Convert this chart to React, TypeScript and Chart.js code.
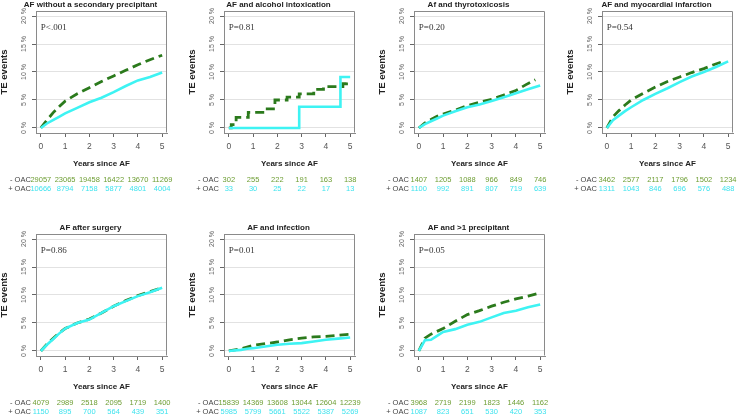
import React, { useEffect, useRef } from 'react';
import { Chart, registerables } from 'chart.js';

Chart.register(...registerables);

const SANS = '"Liberation Sans", Arial, sans-serif';
const SERIF = '"Liberation Serif", "Times New Roman", serif';
const GREEN = '#2b7a1c';
const CYAN = '#3ef3f3';
const GREEN_TXT = '#6e9e34';
const CYAN_TXT = '#3fe3ee';

const X_TICKS = [0, 1, 2, 3, 4, 5];
const Y_TICKS = [0, 5, 10, 15, 20];
const RISK_LABELS = ['- OAC', '+ OAC'];

// time grids (years since AF)
const T_STD = [0, 0.25, 0.5, 0.75, 1, 1.5, 2, 2.5, 3, 3.5, 4, 4.5, 5];
const T_48 = [0, 0.25, 0.5, 0.75, 1, 1.5, 2, 2.5, 3, 3.5, 4, 4.4, 4.8];

// Panel 1: AF without a secondary precipitant
const p1Title = 'AF without a secondary precipitant';
const p1P = 'P<.001';
const p1Minus = [0, 1.4, 2.7, 3.8, 4.8, 6.1, 7.2, 8.3, 9.3, 10.3, 11.3, 12.2, 13.0];
const p1Plus = [0, 0.8, 1.4, 2.0, 2.6, 3.6, 4.6, 5.4, 6.4, 7.5, 8.5, 9.1, 9.9];
const p1RiskMinus = ['29057', '23065', '19458', '16422', '13670', '11269'];
const p1RiskPlus = ['10666', '8794', '7158', '5877', '4801', '4004'];

// Panel 2: AF and alcohol intoxication (step curves)
const p2Title = 'AF and alcohol intoxication';
const p2P = 'P=0.81';
const p2MinusT = [0, 0.1, 0.3, 0.8, 1.4, 1.9, 2.4, 2.9, 3.5, 3.9, 4.7, 4.85];
const p2Minus = [0, 0.6, 1.9, 2.8, 3.4, 5.0, 5.5, 6.1, 6.9, 7.4, 7.9, 8.3];
const p2PlusT = [0, 2.9, 4.6, 5.0];
const p2Plus = [0, 3.8, 9.1, 9.1];
const p2RiskMinus = ['302', '255', '222', '191', '163', '138'];
const p2RiskPlus = ['33', '30', '25', '22', '17', '13'];

// Panel 3: Af and thyrotoxicosis
const p3Title = 'Af and thyrotoxicosis';
const p3P = 'P=0.20';
const p3Minus = [0, 0.9, 1.5, 2.1, 2.5, 3.2, 4.0, 4.6, 5.1, 5.9, 6.7, 7.7, 8.6];
const p3Plus = [0, 0.7, 1.2, 1.7, 2.2, 3.0, 3.7, 4.2, 4.8, 5.5, 6.2, 6.9, 7.6];
const p3RiskMinus = ['1407', '1205', '1088', '966', '849', '746'];
const p3RiskPlus = ['1100', '992', '891', '807', '719', '639'];

// Panel 4: AF and myocardial infarction
const p4Title = 'AF and myocardial infarction';
const p4P = 'P=0.54';
const p4Minus = [0, 2.0, 3.1, 4.1, 5.0, 6.2, 7.3, 8.3, 9.1, 9.9, 10.6, 11.3, 11.9];
const p4Plus = [0, 1.4, 2.2, 3.0, 3.7, 5.0, 6.1, 7.1, 8.2, 9.2, 10.0, 10.9, 11.9];
const p4RiskMinus = ['3462', '2577', '2117', '1796', '1502', '1234'];
const p4RiskPlus = ['1311', '1043', '846', '696', '576', '488'];

// Panel 5: AF after surgery
const p5Title = 'AF after surgery';
const p5P = 'P=0.86';
const p5Minus = [0, 1.2, 2.2, 3.2, 4.0, 5.0, 5.7, 6.8, 8.0, 9.0, 9.9, 10.6, 11.3];
const p5Plus = [0, 1.1, 2.1, 3.1, 4.0, 5.0, 5.6, 6.8, 8.0, 8.9, 9.8, 10.5, 11.3];
const p5RiskMinus = ['4079', '2989', '2518', '2095', '1719', '1400'];
const p5RiskPlus = ['1150', '895', '700', '564', '439', '351'];

// Panel 6: AF and infection
const p6Title = 'AF and infection';
const p6P = 'P=0.01';
const p6Minus = [0, 0.2, 0.4, 0.7, 1.0, 1.3, 1.6, 2.0, 2.3, 2.5, 2.6, 2.8, 3.0];
const p6Plus = [0, 0.1, 0.2, 0.4, 0.5, 0.8, 1.1, 1.3, 1.4, 1.7, 2.0, 2.2, 2.4];
const p6RiskMinus = ['15839', '14369', '13608', '13044', '12604', '12239'];
const p6RiskPlus = ['5985', '5799', '5661', '5522', '5387', '5269'];

// Panel 7: AF and >1 precipitant
const p7Title = 'AF and >1 precipitant';
const p7P = 'P=0.05';
const p7Minus = [0, 2.3, 3.0, 3.5, 4.0, 5.3, 6.5, 7.2, 8.0, 8.7, 9.3, 9.8, 10.4];
const p7Plus = [0, 1.9, 2.0, 2.7, 3.4, 3.9, 4.7, 5.2, 6.0, 6.8, 7.2, 7.8, 8.3];
const p7RiskMinus = ['3968', '2719', '2199', '1823', '1446', '1162'];
const p7RiskPlus = ['1087', '823', '651', '530', '420', '353'];

const pts = (ts: number[], vs: number[]) => ts.map((t, i) => ({ x: t, y: vs[i] }));

const CANVAS_H = 192;
const Y_AXIS_W = 36;
const BOX_W = 131;

type PanelCfg = {
  left: number; top: number; rightPad: number;
  title: string; p: string;
  minus: { x: number; y: number }[]; plus: { x: number; y: number }[];
  stepped: boolean;
  riskMinus: string[]; riskPlus: string[];
};

const PANELS: PanelCfg[] = [
  { left: 0, top: 0, rightPad: 14, title: p1Title, p: p1P, minus: pts(T_STD, p1Minus), plus: pts(T_STD, p1Plus), stepped: false, riskMinus: p1RiskMinus, riskPlus: p1RiskPlus },
  { left: 188, top: 0, rightPad: 14, title: p2Title, p: p2P, minus: pts(p2MinusT, p2Minus), plus: pts(p2PlusT, p2Plus), stepped: true, riskMinus: p2RiskMinus, riskPlus: p2RiskPlus },
  { left: 378, top: 0, rightPad: 14, title: p3Title, p: p3P, minus: pts(T_48, p3Minus), plus: pts(T_STD, p3Plus), stepped: false, riskMinus: p3RiskMinus, riskPlus: p3RiskPlus },
  { left: 566, top: 0, rightPad: 4, title: p4Title, p: p4P, minus: pts(T_48, p4Minus), plus: pts(T_STD, p4Plus), stepped: false, riskMinus: p4RiskMinus, riskPlus: p4RiskPlus },
  { left: 0, top: 223, rightPad: 14, title: p5Title, p: p5P, minus: pts(T_STD, p5Minus), plus: pts(T_STD, p5Plus), stepped: false, riskMinus: p5RiskMinus, riskPlus: p5RiskPlus },
  { left: 188, top: 223, rightPad: 14, title: p6Title, p: p6P, minus: pts(T_STD, p6Minus), plus: pts(T_STD, p6Plus), stepped: false, riskMinus: p6RiskMinus, riskPlus: p6RiskPlus },
  { left: 378, top: 223, rightPad: 14, title: p7Title, p: p7P, minus: pts(T_STD, p7Minus), plus: pts(T_STD, p7Plus), stepped: false, riskMinus: p7RiskMinus, riskPlus: p7RiskPlus },
];

function Panel({ cfg }: { cfg: PanelCfg }) {
  const ref = useRef<HTMLCanvasElement>(null);
  const width = Y_AXIS_W + BOX_W + cfg.rightPad;

  useEffect(() => {
    const canvas = ref.current;
    if (!canvas) return;

    const decor = {
      id: 'decor',
      afterDraw(chart: any) {
        const { ctx, chartArea: a, scales } = chart;
        const xs = scales.x;
        const ys = scales.y;
        ctx.save();
        // box: top and right edges
        ctx.strokeStyle = '#8a8a8a';
        ctx.lineWidth = 1;
        ctx.beginPath();
        const L = Math.round(a.left) + 0.5;
        const R = Math.round(a.right) - 0.5;
        const T = Math.round(a.top) + 0.5;
        const B = Math.round(a.bottom) - 0.5;
        ctx.moveTo(L, T);
        ctx.lineTo(R, T);
        ctx.lineTo(R, B);
        ctx.stroke();

        // title
        ctx.fillStyle = '#222';
        ctx.font = `bold 8px ${SANS}`;
        ctx.textAlign = 'center';
        ctx.textBaseline = 'middle';
        ctx.fillText(cfg.title, (a.left + a.right) / 2 - 11, 4.5);

        // y tick labels (rotated, R style)
        ctx.fillStyle = '#666';
        ctx.font = `7px ${SANS}`;
        for (const v of Y_TICKS) {
          ctx.save();
          ctx.translate(a.left - 12, ys.getPixelForValue(v));
          ctx.rotate(-Math.PI / 2);
          ctx.textAlign = 'center';
          ctx.textBaseline = 'middle';
          ctx.fillText(`${v} %`, 0, 0);
          ctx.restore();
        }

        // p value
        ctx.fillStyle = '#333';
        ctx.font = `9px ${SERIF}`;
        ctx.textAlign = 'left';
        ctx.textBaseline = 'middle';
        ctx.fillText(cfg.p, xs.getPixelForValue(0), ys.getPixelForValue(18));

        // number at risk table
        const rows = [
          { label: RISK_LABELS[0], vals: cfg.riskMinus, color: GREEN_TXT, dy: 46.5 },
          { label: RISK_LABELS[1], vals: cfg.riskPlus, color: CYAN_TXT, dy: 55.5 },
        ];
        ctx.font = `7.5px ${SANS}`;
        ctx.textBaseline = 'middle';
        for (const r of rows) {
          const yy = a.bottom + r.dy;
          ctx.fillStyle = '#444';
          ctx.textAlign = 'right';
          ctx.fillText(r.label, xs.getPixelForValue(0) - 10, yy);
          ctx.fillStyle = r.color;
          ctx.textAlign = 'center';
          r.vals.forEach((v, i) => ctx.fillText(v, xs.getPixelForValue(X_TICKS[i]), yy));
        }
        ctx.restore();
      },
    };

    const chart = new Chart(canvas, {
      type: 'line',
      data: {
        datasets: [
          {
            label: '+ OAC',
            data: cfg.plus,
            borderColor: CYAN,
            borderWidth: 2.6,
            pointRadius: 0,
            fill: false,
            tension: 0,
            stepped: cfg.stepped,
          },
          {
            label: '- OAC',
            data: cfg.minus,
            borderColor: GREEN,
            borderWidth: 2.8,
            borderDash: [9, 5],
            pointRadius: 0,
            fill: false,
            tension: 0,
            stepped: cfg.stepped,
          },
        ],
      },
      options: {
        responsive: false,
        animation: false,
        devicePixelRatio: 1,
        events: [],
        layout: { padding: { top: 11, left: 0, right: cfg.rightPad, bottom: 23 } },
        plugins: {
          legend: { display: false },
          tooltip: { enabled: false },
          title: { display: false },
        },
        scales: {
          x: {
            type: 'linear',
            min: -0.2,
            max: 5.2,
            afterBuildTicks: (s: any) => {
              s.ticks = X_TICKS.map((v) => ({ value: v }));
            },
            afterFit: (s: any) => {
              s.height = 36;
              s.paddingLeft = 0;
              s.paddingRight = 0;
            },
            ticks: {
              font: { size: 8.5, family: SANS },
              color: '#555',
              padding: 5,
              autoSkip: false,
              maxRotation: 0,
              minRotation: 0,
            },
            grid: {
              display: true,
              drawOnChartArea: false,
              drawTicks: true,
              tickLength: 4,
              tickColor: '#666',
            },
            border: { display: true, color: '#8a8a8a', width: 1 },
            title: {
              display: true,
              text: 'Years since AF',
              font: { size: 8, weight: 'bold', family: SANS, lineHeight: 1.2 },
              color: '#222',
              padding: 0,
            },
          },
          y: {
            type: 'linear',
            min: -0.9,
            max: 20.9,
            afterBuildTicks: (s: any) => {
              s.ticks = Y_TICKS.map((v) => ({ value: v }));
            },
            afterFit: (s: any) => {
              s.width = Y_AXIS_W;
              s.paddingTop = 0;
              s.paddingBottom = 0;
            },
            ticks: { display: false },
            grid: {
              display: true,
              color: '#e2e2e2',
              drawTicks: true,
              tickLength: 4,
              tickColor: '#666',
            },
            border: { display: true, color: '#8a8a8a', width: 1 },
            title: {
              display: true,
              text: 'TE events',
              font: { size: 9.5, weight: 'bold', family: SANS, lineHeight: 1 },
              color: '#222',
              padding: 0,
            },
          },
        },
      } as any,
      plugins: [decor],
    });
    return () => chart.destroy();
  }, [cfg]);

  return (
    <canvas
      ref={ref}
      width={width}
      height={CANVAS_H}
      style={{ position: 'absolute', left: cfg.left, top: cfg.top, width, height: CANVAS_H }}
    />
  );
}

export default function App() {
  return (
    <div
      style={{
        position: 'absolute',
        left: 0,
        top: 0,
        width: 737,
        height: 415,
        overflow: 'hidden',
        background: '#fff',
      }}
    >
      {PANELS.map((c, i) => (
        <Panel key={i} cfg={c} />
      ))}
    </div>
  );
}
